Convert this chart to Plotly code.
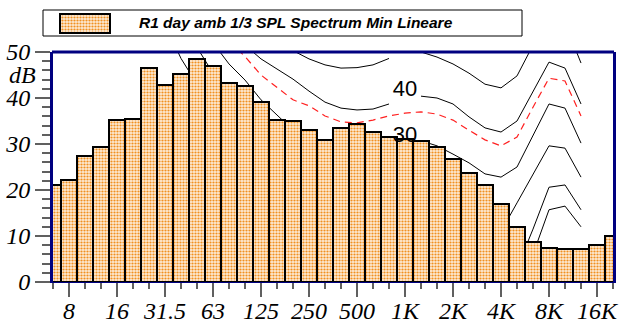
import plotly.graph_objects as go

# ---------------- data ----------------
bands = ["6.3", "8", "10", "12.5", "16", "20", "25", "31.5", "40", "50", "63", "80",
         "100", "125", "160", "200", "250", "315", "400", "500", "630", "800",
         "1K", "1.25K", "1.6K", "2K", "2.5K", "3.15K", "4K", "5K", "6.3K", "8K",
         "10K", "12.5K", "16K", "20K"]

spl_min = [21.0, 22.2, 27.5, 29.4, 35.2, 35.4, 46.6, 42.8, 45.2, 48.5, 47.0, 43.2,
           42.6, 39.2, 35.2, 35.0, 33.0, 30.9, 33.5, 34.3, 32.7, 31.6,
           31.0, 30.6, 29.3, 26.7, 23.6, 21.1, 16.9, 11.9, 8.8, 7.3,
           7.2, 7.2, 8.0, 9.9]

tick_labels = ["8", "16", "31.5", "63", "125", "250", "500", "1K", "2K", "4K", "8K", "16K"]

# contour curves, bands 20 Hz .. 12.5 kHz
contour_bands = bands[5:34]
curve_50 = [95, 88, 82, 76, 70, 65, 60, 56.5, 53.5, 51.5, 50.3, 48.5, 47.2, 46.5, 46.6,
            47.2, 48.6, None, 50.0, 48.9, 47.4, 45.4, 43.0, 42.2, 44.8, 51.5, 57.0, 56.3, 47.6]
curve_40 = [88, 80, 73, 67, 61, 57, 53.5, 51.5, 48.5, 46.3, 44.1, 41.5, 39.1, 37.8, 37.4,
            37.6, 38.7, None, 40.4, 40.0, 38.7, 35.9, 33.5, 32.6, 35.0, 41.3, 47.8, 46.5, 38.7]
curve_red = [85, 78, 71, 65, 59, 55.5, 52.5, 49.0, 45.0, 42.2, 39.6, 38.3, 36.1, 34.8, 34.6,
             35.2, 36.1, 36.7, 37.0, 36.5, 35.2, 33.0, 30.9, 29.6, 31.5, 38.0, 44.3, 43.7, 36.1]
curve_30 = [80, 73, 66, 60, 55, 52, 47.4, 43.9, 39.6, 36.3, 33.0, 30.9, 29.3, 28.3, 27.8,
            28.0, 28.9, None, 30.7, 29.6, 27.8, 25.9, 23.5, 22.8, 25.0, 32.0, 38.7, 37.8, 30.2]
curve_20 = [75, 66, 59, 57, 51, 45.4, 39, 34, 29.5, 26, 23.5, 21.5, 20, 19, 18.5,
            18.5, 19, None, 21, 20, 18, 16, 13.5, 11, 17.2, 23.3, 29.6, 29.1, 22.8]
curve_10 = [70, 62, 56, 48.6, 43, 37, 31, 26, 21, 17, 14, 12, 10.5, 9.5, 9,
            9, 9.5, None, 11, 10, 8, 6, 3.5, 2, 3, 11.5, 20.6, 21.1, 15.7]
curve_low = [None, None, None, None, 40, 33, 27, 22, 17, 13, 10, 8, 6.5, 5.5, 5,
             5, 5, 5, 5.5, 5, 3.5, 2, 1, 0.5, 0.5, 6.0, 15.7, 16.5, 12.0]

label_levels = [50, 40, 30]      # contour labels visible at 1 kHz
label_band = "1K"

series_name = "R1 day amb 1/3 SPL Spectrum Min Lineare"

# ---------------- geometry helpers ----------------
W, H = 620, 323
PL, PR, PT, PB = 53, 613, 52, 282   # plot area in px


def px_x(x):
    return x / W


def px_y(y):
    return 1 - y / H


idx = {b: i for i, b in enumerate(bands)}
x_bars = [idx[b] for b in bands]
x_curve = [idx[b] for b in contour_bands]
major_ticks = [idx[t] for t in tick_labels]

navy = "#000080"
bar_marker = dict(color="#FACF9E",
                  pattern=dict(shape=".", fgcolor="#F09020", bgcolor="#FDEBD6",
                               size=3, solidity=0.42, fillmode="replace"),
                  line=dict(color="black", width=2))

fig = go.Figure()

# curves (base subplot, drawn beneath the bars)
for ys in [curve_50, curve_40, curve_30, curve_20, curve_10, curve_low]:
    fig.add_trace(go.Scatter(x=x_curve, y=ys, mode="lines", connectgaps=False,
                             line=dict(color="black", width=1),
                             hoverinfo="skip", showlegend=False))
fig.add_trace(go.Scatter(x=x_curve, y=curve_red, mode="lines",
                         line=dict(color="#FF2020", width=1.2, dash="7px,5px"),
                         hoverinfo="skip", showlegend=False))

# bars on overlaid axes so they are drawn above the curves
fig.add_trace(go.Bar(x=x_bars, y=spl_min, width=1, marker=bar_marker,
                     xaxis="x2", yaxis="y2", name=series_name,
                     hoverinfo="skip", showlegend=False))

# contour labels (above bars)
fig.add_trace(go.Scatter(x=[idx[label_band]] * len(label_levels),
                         y=[v + 1.7 for v in label_levels],
                         text=[str(v) for v in label_levels], mode="text",
                         xaxis="x2", yaxis="y2",
                         textfont=dict(family="Liberation Sans, Arial", size=22, color="black"),
                         hoverinfo="skip", showlegend=False))

# legend swatch
fig.add_trace(go.Bar(x=[0], y=[1], width=1, marker=bar_marker,
                     xaxis="x3", yaxis="y3", hoverinfo="skip", showlegend=False))

serif = "Liberation Serif, Times New Roman, serif"

fig.update_layout(
    width=W, height=H,
    margin=dict(l=0, r=0, t=0, b=0),
    paper_bgcolor="white", plot_bgcolor="white",
    showlegend=False,
    bargap=0,
    xaxis=dict(domain=[px_x(PL), px_x(PR)], range=[0, len(bands) - 1], anchor="y",
               tickmode="array", tickvals=major_ticks, ticktext=tick_labels,
               ticks="outside", ticklen=14, tickwidth=1.5, tickcolor="#606060",
               ticklabelstandoff=-7,
               minor=dict(tickmode="linear", tick0=0, dtick=1, ticks="outside",
                          ticklen=6, tickwidth=1.5, tickcolor="#606060", showgrid=False),
               tickfont=dict(family=serif, size=24, color="black", style="italic"),
               showline=True, linecolor=navy, linewidth=1, mirror=False,
               showgrid=False, zeroline=False, automargin=False, fixedrange=True),
    yaxis=dict(domain=[px_y(PB), px_y(PT)], range=[0, 50], anchor="x",
               tickmode="linear", tick0=0, dtick=10,
               ticks="outside", ticklen=15, tickwidth=1.5, tickcolor="#606060",
               minor=dict(tickmode="linear", tick0=0, dtick=2, ticks="outside",
                          ticklen=8, tickwidth=1.5, tickcolor="#606060", showgrid=False),
               tickfont=dict(family=serif, size=24, color="black", style="italic"),
               showline=True, linecolor=navy, linewidth=3, mirror=True,
               showgrid=False, zeroline=False, automargin=False, fixedrange=True),
    xaxis2=dict(overlaying="x", range=[0, len(bands) - 1], visible=False, fixedrange=True),
    yaxis2=dict(overlaying="y", range=[0, 50], visible=False, fixedrange=True),
    xaxis3=dict(domain=[px_x(58), px_x(112)], anchor="y3", range=[-0.54, 0.54],
                visible=False, fixedrange=True),
    yaxis3=dict(domain=[px_y(34), px_y(13)], anchor="x3", range=[-0.06, 1.06],
                visible=False, fixedrange=True),
    shapes=[
        dict(type="rect", xref="paper", yref="paper",
             x0=px_x(43), x1=px_x(522), y0=px_y(36), y1=px_y(10),
             line=dict(color="black", width=1), fillcolor="rgba(0,0,0,0)", layer="below"),
        dict(type="line", xref="paper", yref="paper",
             x0=px_x(PL - 1), x1=px_x(PR + 1), y0=px_y(PT), y1=px_y(PT),
             line=dict(color=navy, width=3)),
    ],
    annotations=[
        dict(text="<b><i>" + series_name + "</i></b>", xref="paper", yref="paper",
             x=px_x(137), y=px_y(22.5), xanchor="left", yanchor="middle", showarrow=False,
             font=dict(family="Liberation Sans, Arial", size=15.5, color="black")),
        dict(text="dB", xref="paper", yref="paper", x=px_x(22), y=px_y(75),
             xanchor="center", yanchor="middle", showarrow=False,
             font=dict(family=serif, size=24, color="black", style="italic")),
    ],
)

fig.write_html("out.html", config={"displayModeBar": False},
               post_script="document.body.style.margin='0';document.body.style.padding='0';")
